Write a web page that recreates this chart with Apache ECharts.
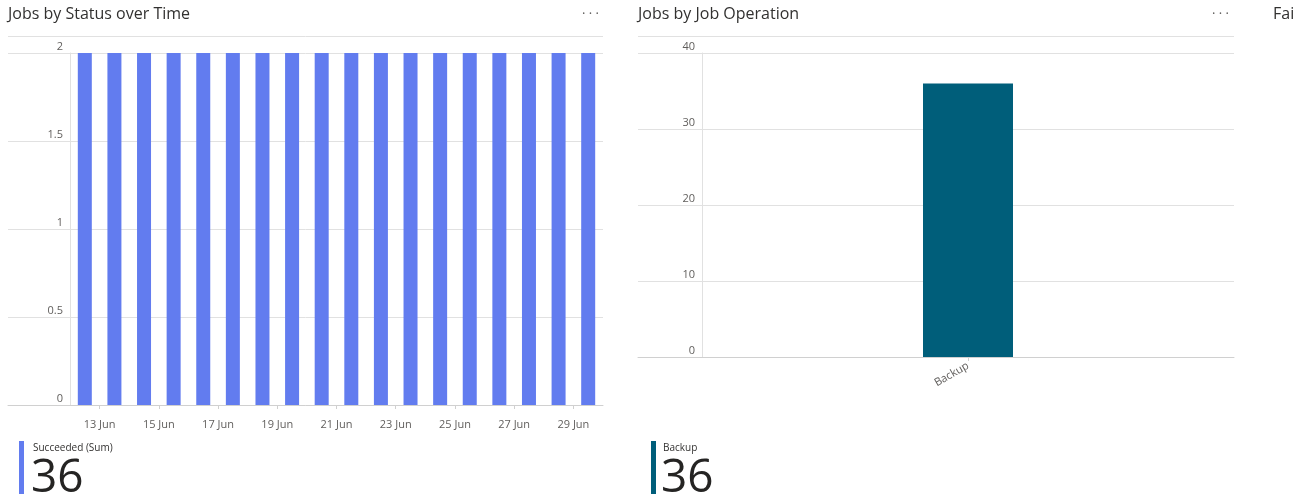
<!DOCTYPE html>
<html>
<head>
<meta charset="utf-8">
<script src="https://cdn.jsdelivr.net/npm/echarts@6/dist/echarts.min.js"></script>
<style>
  html, body { margin: 0; padding: 0; background: #fff; }
  #chart { width: 1293px; height: 503px; }
</style>
</head>
<body>
<div id="chart"></div>
<script>
// ---- Data ----
const statusDays = ['12 Jun','13 Jun','14 Jun','15 Jun','16 Jun','17 Jun','18 Jun','19 Jun','20 Jun',
                    '21 Jun','22 Jun','23 Jun','24 Jun','25 Jun','26 Jun','27 Jun','28 Jun','29 Jun'];
const succeededValues = [2,2,2,2,2,2,2,2,2,2,2,2,2,2,2,2,2,2];
const statusTickLabels = ['13 Jun','15 Jun','17 Jun','19 Jun','21 Jun','23 Jun','25 Jun','27 Jun','29 Jun'];
const statusYTicks = [0, 0.5, 1, 1.5, 2];

const operationCategories = ['Backup'];
const operationValues = [36];
const operationYTicks = [0, 10, 20, 30, 40];

const leftTitle = 'Jobs by Status over Time';
const rightTitle = 'Jobs by Job Operation';
const nextTitle = 'Failed jobs';
const leftLegend = 'Succeeded (Sum)';
const rightLegend = 'Backup';

// ---- Styles ----
const FONT = "'Segoe UI', 'Open Sans', 'Noto Sans', sans-serif";
const BLUE = '#627cef';
const TEAL = '#005e7a';
const GRID_C = '#e1e1e1';
const AXIS_C = '#d0d0d0';
const LABEL_C = '#605e5c';

const sum = a => a.reduce((s, v) => s + v, 0);
const dayPos = statusDays.map((d, i) => i + 0.5);
const statusData = succeededValues.map((v, i) => [dayPos[i], v]);
const tickPos = statusTickLabels.map(l => statusDays.indexOf(l));

const chart = echarts.init(document.getElementById('chart'), null, { renderer: 'canvas' });

const option = {
  animation: false,
  textStyle: { fontFamily: FONT },
  grid: [
    { left: 70, top: 53, width: 533, height: 352 },   // left main
    { left: 8, top: 53, width: 595, height: 352 },    // left background (full-width gridlines)
    { left: 702, top: 53, width: 532, height: 304 },  // right main
    { left: 638, top: 53, width: 596, height: 304 }   // right background
  ],
  xAxis: [
    {
      gridIndex: 0, type: 'value', min: 0, max: statusDays.length,
      splitLine: { show: false },
      axisLine: { show: false },
      axisTick: { show: true, customValues: tickPos, length: 4, lineStyle: { color: AXIS_C } },
      axisLabel: {
        customValues: tickPos, color: LABEL_C, fontSize: 11, fontFamily: FONT, margin: 14,
        formatter: v => statusDays[Math.round(v)]
      }
    },
    {
      gridIndex: 1, type: 'value', min: 0, max: 1, show: true,
      axisLine: { show: true, lineStyle: { color: AXIS_C, width: 1 } },
      axisTick: { show: false }, axisLabel: { show: false }, splitLine: { show: false }
    },
    {
      gridIndex: 2, type: 'category', data: operationCategories,
      axisLine: { show: false },
      axisTick: { show: true, alignWithLabel: true, length: 4, lineStyle: { color: AXIS_C } },
      axisLabel: { color: LABEL_C, fontSize: 11, fontFamily: FONT, rotate: 30, margin: 8 },
      splitLine: { show: false }
    },
    {
      gridIndex: 3, type: 'value', min: 0, max: 1, show: true,
      axisLine: { show: true, lineStyle: { color: AXIS_C, width: 1 } },
      axisTick: { show: false }, axisLabel: { show: false }, splitLine: { show: false }
    }
  ],
  yAxis: [
    {
      gridIndex: 0, type: 'value', min: statusYTicks[0], max: statusYTicks[statusYTicks.length - 1], interval: 0.5,
      axisLine: { show: true, lineStyle: { color: GRID_C } },
      axisTick: { show: false },
      splitLine: { show: false },
      axisLabel: { color: LABEL_C, fontSize: 11, fontFamily: FONT, margin: 7, verticalAlign: 'bottom', padding: [0, 0, 1, 0] }
    },
    {
      gridIndex: 1, type: 'value', min: statusYTicks[0], max: statusYTicks[statusYTicks.length - 1], interval: 0.5,
      axisLine: { show: false }, axisTick: { show: false }, axisLabel: { show: false },
      splitLine: { show: true, lineStyle: { color: GRID_C, width: 1 } }
    },
    {
      gridIndex: 2, type: 'value', min: operationYTicks[0], max: operationYTicks[operationYTicks.length - 1], interval: 10,
      axisLine: { show: true, lineStyle: { color: GRID_C } },
      axisTick: { show: false },
      splitLine: { show: false },
      axisLabel: { color: LABEL_C, fontSize: 11, fontFamily: FONT, margin: 7, verticalAlign: 'bottom', padding: [0, 0, 1, 0] }
    },
    {
      gridIndex: 3, type: 'value', min: operationYTicks[0], max: operationYTicks[operationYTicks.length - 1], interval: 10,
      axisLine: { show: false }, axisTick: { show: false }, axisLabel: { show: false },
      splitLine: { show: true, lineStyle: { color: GRID_C, width: 1 } }
    }
  ],
  series: [
    {
      name: leftLegend, type: 'bar', xAxisIndex: 0, yAxisIndex: 0,
      data: statusData, barWidth: 14, itemStyle: { color: BLUE }, z: 3
    },
    {
      name: rightLegend, type: 'bar', xAxisIndex: 2, yAxisIndex: 2,
      data: operationValues, barWidth: 90, itemStyle: { color: TEAL }, z: 3
    }
  ],
  graphic: [
    { type: 'text', left: 8, top: 6, style: { text: leftTitle, font: "normal 16px " + FONT, fill: '#323130' } },
    { type: 'text', left: 638, top: 6, style: { text: rightTitle, font: "normal 16px " + FONT, fill: '#323130' } },
    { type: 'text', left: 1273, top: 6, style: { text: nextTitle, font: "normal 16px " + FONT, fill: '#323130' } },
    { type: 'text', left: 582, top: 8, style: { text: '· · ·', font: "normal 13px " + FONT, fill: '#605e5c' } },
    { type: 'text', left: 1212, top: 8, style: { text: '· · ·', font: "normal 13px " + FONT, fill: '#605e5c' } },
    { type: 'line', shape: { x1: 8, y1: 36.5, x2: 603, y2: 36.5 }, style: { stroke: GRID_C, lineWidth: 1 } },
    { type: 'line', shape: { x1: 638, y1: 36.5, x2: 1234, y2: 36.5 }, style: { stroke: GRID_C, lineWidth: 1 } },
    // legends
    { type: 'rect', shape: { x: 19, y: 441, width: 5, height: 53 }, style: { fill: BLUE } },
    { type: 'text', left: 33, top: 443, style: { text: leftLegend, font: "10px " + FONT, fill: '#323130' } },
    { type: 'text', left: 31, top: 456, style: { text: String(sum(succeededValues)), font: "46px " + FONT, fill: '#252423' } },
    { type: 'rect', shape: { x: 651, y: 441, width: 5, height: 53 }, style: { fill: TEAL } },
    { type: 'text', left: 663, top: 443, style: { text: rightLegend, font: "10px " + FONT, fill: '#323130' } },
    { type: 'text', left: 661, top: 456, style: { text: String(sum(operationValues)), font: "46px " + FONT, fill: '#252423' } }
  ]
};
chart.setOption(option);
</script>
</body>
</html>
